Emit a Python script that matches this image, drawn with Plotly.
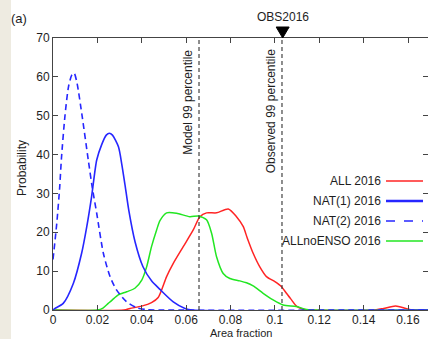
import plotly.graph_objects as go

# Probability density of area fraction, 2016
all_x = [0, 0.032, 0.0347, 0.040, 0.0444, 0.0474, 0.0512, 0.0542, 0.0587, 0.0632, 0.0662, 0.0692,
         0.0737, 0.079, 0.0827, 0.0857, 0.0875, 0.0902, 0.0932, 0.0962, 0.100, 0.103, 0.1052,
         0.1075, 0.1097, 0.1128, 0.116, 0.145, 0.149, 0.1544, 0.159, 0.162, 0.169]
all_y = [0, 0, 0.4, 1.0, 1.9, 3.2, 8.6, 12, 16.3, 20.6, 24, 25,
         25, 26, 24, 21.5, 18.6, 14.6, 11.1, 8.6, 7.3, 6.0, 4.3,
         2.6, 1.0, 0.2, 0, 0, 0.4, 1.0, 0.4, 0, 0]

nat1_x = [0, 0.0009, 0.0046, 0.0092, 0.0129, 0.0152, 0.0174, 0.0197, 0.0219, 0.024, 0.0254,
          0.0268, 0.0295, 0.031, 0.0325, 0.0342, 0.037, 0.0405, 0.0444, 0.0482, 0.0542,
          0.0595, 0.063, 0.169]
nat1_y = [0, 0.4, 1.7, 6.9, 14.6, 21.4, 29.2, 38.6, 42.5, 45.0, 45.5,
          45.0, 42, 37.5, 32, 25.5, 17.5, 11.2, 7.5, 5.3, 2.1,
          0.4, 0, 0]

nat2_x = [0, 0.0017, 0.003, 0.0038, 0.0054, 0.007, 0.0085, 0.0095, 0.0108, 0.0131, 0.0159,
          0.0177, 0.0197, 0.0227, 0.0257, 0.0287, 0.0332, 0.0377, 0.042, 0.046, 0.169]
nat2_y = [13, 22.3, 31.5, 39, 50, 57.5, 60.5, 61, 58.5, 50, 38.6,
          31.5, 24.9, 14.6, 8.6, 5.1, 2.1, 0.6, 0.1, 0, 0]

noenso_x = [0, 0.020, 0.0225, 0.0249, 0.0275, 0.0294, 0.0332, 0.0369, 0.040, 0.0422, 0.0444,
            0.0467, 0.0482, 0.0512, 0.0557, 0.0617, 0.0655, 0.0692, 0.0715, 0.0737, 0.0767,
            0.0797, 0.0842, 0.0872, 0.0902, 0.0947, 0.0992, 0.1037, 0.1097, 0.1143, 0.117, 0.169]
noenso_y = [0, 0, 0.5, 1.7, 3.0, 3.9, 4.7, 5.6, 7.7, 11.1, 16.3,
            20.6, 23, 25, 24.9, 24, 24.2, 23.2, 19.7, 13.7, 9.4,
            8.1, 7.5, 7.0, 6.2, 4.3, 2.6, 1.3, 0.9, 0.1, 0, 0]

model_p99 = 0.0658
obs_p99 = 0.1032
obs_2016 = 0.1035

x_ticks = [0, 0.02, 0.04, 0.06, 0.08, 0.1, 0.12, 0.14, 0.16]
x_tick_labels = ["0", "0.02", "0.04", "0.06", "0.08", "0.1", "0.12", "0.14", "0.16"]
y_ticks = [0, 10, 20, 30, 40, 50, 60, 70]

series_names = ["ALL 2016", "NAT(1) 2016", "NAT(2) 2016", "ALLnoENSO 2016"]

RED = "#FF2424"
BLUE = "#2626FF"
GREEN = "#22E622"
FONT = "Liberation Sans, Arial, sans-serif"
TXT = "#1e1e1e"

fig = go.Figure()

def curve(x, y, color, width=1.5, dash="solid"):
    fig.add_trace(go.Scatter(x=x, y=y, mode="lines", showlegend=False,
                             line=dict(color=color, width=width, dash=dash,
                                       shape="spline", smoothing=0.7)))

curve(all_x, all_y, RED)
curve(noenso_x, noenso_y, GREEN)
curve(nat2_x, nat2_y, BLUE, 1.6, "6px,4px")
curve(nat1_x, nat1_y, BLUE, 1.6)

# percentile lines
for xv in (model_p99, obs_p99):
    fig.add_trace(go.Scatter(x=[xv, xv], y=[0, 70], mode="lines", showlegend=False,
                             line=dict(color="#333333", width=1.1, dash="4px,3px")))

# plot geometry in pixels
L, R, T, B = 53, 428, 38, 310
W, H = R - L, B - T

def px(xp):
    return (xp - L) / W

def py(yp):
    return (B - yp) / H

def label(text, x, y, size=12, xref="paper", yref="paper", **kw):
    d = dict(text=text, x=x, y=y, xref=xref, yref=yref, showarrow=False,
             xanchor="center", yanchor="middle",
             font=dict(size=size, color=TXT, family=FONT))
    d.update(kw)
    return d

annotations = [
    label("(a)", px(19), py(18), 13),
    label("OBS2016", obs_2016, py(17), 12, xref="x"),
    label("Model 99 percentile", 0.0608, 67.6, 12, xref="x", yref="y",
          textangle=-90, yanchor="top"),
    label("Observed 99 percentile", 0.0982, 67.6, 12, xref="x", yref="y",
          textangle=-90, yanchor="top"),
    label("Probability", px(22), py(168), 12, textangle=-90),
    label("Area fraction", 0.5, py(326), 11, yanchor="top", borderpad=0),
]

shapes = [
    dict(type="rect", xref="paper", yref="paper", x0=px(0), x1=px(11),
         y0=py(339), y1=py(0), fillcolor="#EEEBE1", line=dict(width=0), layer="below"),
]

# observed 2016 marker: downward triangle sitting on the top frame
tri_half = 6.5 / 2220.0
shapes.append(dict(type="path", xref="x", yref="paper",
                   path=f"M {obs_2016 - tri_half},{py(27)} L {obs_2016 + tri_half},{py(27)} "
                        f"L {obs_2016},{py(38)} Z",
                   fillcolor="black", line=dict(color="black", width=1)))

# legend: label on the left, line sample on the right
legend_styles = [(RED, 1.5, "solid"), (BLUE, 2.6, "solid"),
                 (BLUE, 1.6, "dash"), (GREEN, 1.5, "solid")]
for i, (name, (col, wd, ds)) in enumerate(zip(series_names, legend_styles)):
    yc = 181 + 20 * i
    annotations.append(label(name, px(383), py(yc), 12, xanchor="right"))
    shapes.append(dict(type="line", xref="paper", yref="paper", x0=px(386), x1=px(423),
                       y0=py(yc), y1=py(yc), line=dict(color=col, width=wd, dash=ds)))

axis_common = dict(showgrid=False, zeroline=False, showline=True, linecolor="#444444",
                   linewidth=1, ticks="inside", ticklen=5, tickcolor="#444444",
                   mirror="ticks", tickfont=dict(size=12, color=TXT, family=FONT))

fig.update_layout(
    width=428, height=339,
    margin=dict(l=L, r=428 - R, t=T, b=339 - B),
    paper_bgcolor="white", plot_bgcolor="white",
    xaxis=dict(range=[0, 0.169], tickvals=x_ticks, ticktext=x_tick_labels,
               ticklabelstandoff=-1, **axis_common),
    yaxis=dict(range=[0, 70], tickvals=y_ticks, **axis_common),
    annotations=annotations, shapes=shapes,
)

fig.write_html("out.html")
